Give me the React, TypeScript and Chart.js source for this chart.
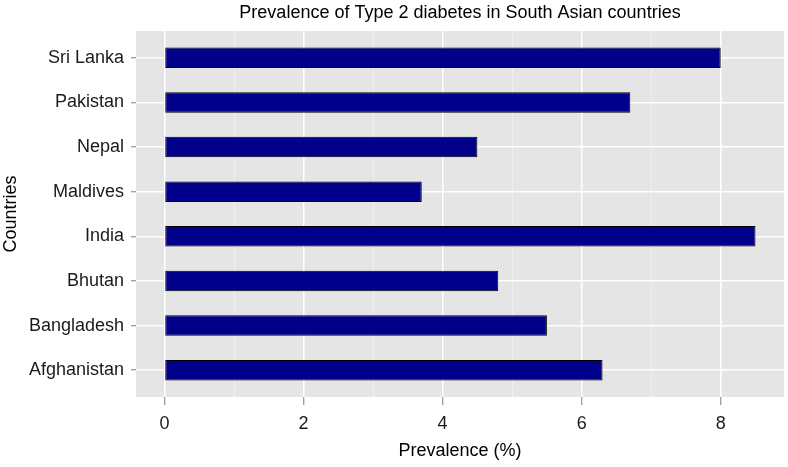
import React, { useEffect, useRef } from "react";
import { Chart, registerables } from "chart.js";

Chart.register(...registerables);

const TITLE = "Prevalence of Type 2 diabetes in South Asian countries";
const X_TITLE = "Prevalence (%)";
const Y_TITLE = "Countries";

// bottom-to-top order (as drawn, Afghanistan at the bottom)
const countries = [
  "Afghanistan",
  "Bangladesh",
  "Bhutan",
  "India",
  "Maldives",
  "Nepal",
  "Pakistan",
  "Sri Lanka",
];
const prevalence = [6.3, 5.5, 4.8, 8.5, 3.7, 4.5, 6.7, 8.0];
const xTicks = [0, 1, 2, 3, 4, 5, 6, 7, 8];
const xMin = -0.41;
const xMax = 8.91;
const yMin = -0.6;
const yMax = 7.6;

const FONT = "'Liberation Sans', Arial, Helvetica, sans-serif";

export default function App() {
  const ref = useRef<HTMLCanvasElement | null>(null);

  useEffect(() => {
    const canvas = ref.current;
    if (!canvas) return;

    const panelPlugin = {
      id: "panelAndTitle",
      beforeDraw(chart: any) {
        const { ctx, chartArea, width, height } = chart;
        ctx.save();
        ctx.fillStyle = "#ffffff";
        ctx.fillRect(0, 0, width, height);
        ctx.fillStyle = "#E5E5E5";
        ctx.fillRect(
          chartArea.left,
          chartArea.top,
          chartArea.right - chartArea.left,
          chartArea.bottom - chartArea.top
        );
        ctx.restore();
      },
      afterDraw(chart: any) {
        const { ctx, chartArea } = chart;
        ctx.save();
        ctx.fillStyle = "#000000";
        ctx.font = `18px ${FONT}`;
        ctx.textAlign = "center";
        ctx.textBaseline = "alphabetic";
        ctx.fillText(TITLE, (chartArea.left + chartArea.right) / 2, 17.5);
        ctx.restore();
      },
    };

    const chart = new Chart(canvas, {
      type: "bar",
      data: {
        datasets: [
          {
            data: countries.map((c, i) => ({ x: prevalence[i], y: i })),
            backgroundColor: "#00008B",
            borderColor: "#000000",
            borderWidth: 1,
            borderSkipped: false,
            categoryPercentage: 1,
            barPercentage: 0.46,
          } as any,
        ],
      },
      plugins: [panelPlugin],
      options: {
        indexAxis: "y",
        responsive: false,
        animation: false,
        devicePixelRatio: 1,
        layout: { padding: { top: 31, right: 4, left: 0, bottom: 0 } },
        plugins: {
          legend: { display: false },
          title: { display: false },
          tooltip: { enabled: false },
        },
        scales: {
          x: {
            type: "linear",
            position: "bottom",
            min: xMin,
            max: xMax,
            offset: false,
            afterBuildTicks: (axis: any) => {
              axis.ticks = xTicks.map((v) => ({ value: v }));
            },
            afterFit: (s: any) => {
              s.height = 70;
            },
            border: { display: false },
            grid: {
              offset: false,
              color: (c: any) =>
                c.tick && c.tick.value % 2 !== 0 ? "#F2F2F2" : "#FFFFFF",
              lineWidth: (c: any) =>
                c.tick && c.tick.value % 2 !== 0 ? 0.8 : 1.5,
              tickColor: (c: any) =>
                c.tick && c.tick.value % 2 !== 0 ? "rgba(0,0,0,0)" : "#808080",
              tickLength: 8,
              tickWidth: 1,
              drawTicks: true,
            },
            ticks: {
              autoSkip: false,
              maxRotation: 0,
              padding: 8,
              color: "#1a1a1a",
              font: { family: FONT, size: 18 },
              callback: (v: any) => (Number(v) % 2 === 0 ? String(v) : ""),
            },
            title: {
              display: true,
              text: X_TITLE,
              color: "#000000",
              font: { family: FONT, size: 18 },
              padding: { top: 0, bottom: 5 },
            },
          },
          y: {
            type: "linear",
            position: "left",
            min: yMin,
            max: yMax,
            offset: false,
            afterBuildTicks: (axis: any) => {
              axis.ticks = countries.map((_, i) => ({ value: i }));
            },
            afterFit: (s: any) => {
              s.width = 136;
            },
            border: { display: false },
            grid: {
              offset: false,
              color: "#FFFFFF",
              lineWidth: 1.5,
              tickColor: "#808080",
              tickLength: 5,
              tickWidth: 1,
            },
            ticks: {
              autoSkip: false,
              padding: 7,
              color: "#1a1a1a",
              font: { family: FONT, size: 18 },
              callback: (v: any) => countries[Number(v)] ?? "",
            },
            title: {
              display: true,
              text: Y_TITLE,
              color: "#000000",
              font: { family: FONT, size: 18 },
              padding: { top: 0, bottom: 0 },
            },
          },
        },
      } as any,
    });

    return () => chart.destroy();
  }, []);

  return (
    <div style={{ position: "absolute", left: 0, top: 0, width: 788, height: 467 }}>
      <canvas
        ref={ref}
        width={788}
        height={467}
        style={{ display: "block", width: 788, height: 467 }}
      />
    </div>
  );
}
